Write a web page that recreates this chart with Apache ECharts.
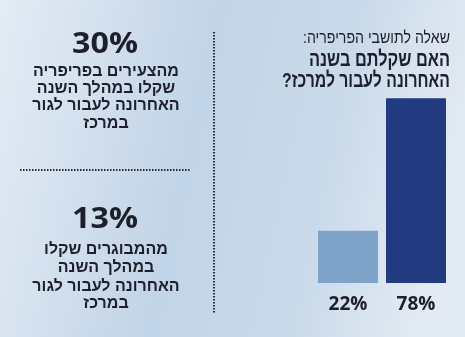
<!DOCTYPE html>
<html><head><meta charset="utf-8">
<script src="https://cdn.jsdelivr.net/npm/echarts@6/dist/echarts.min.js"></script>
<style>html,body{margin:0;padding:0;}#c{width:465px;height:337px;}</style>
</head><body>
<div id="c" dir="rtl"></div>
<script>
const categories = ['לא', 'כן'];
const values = [22, 78];
const barColors = ['#7fa3c9', '#223a80'];
const titleLines = ['שאלה לתושבי הפריפריה:', 'האם שקלתם בשנה', 'האחרונה לעבור למרכז?'];
const stat1 = '30%';
const stat1Lines = ['מהצעירים בפריפריה', 'שקלו במהלך השנה', 'האחרונה לעבור לגור', 'במרכז'];
const stat2 = '13%';
const stat2Lines = ['מהמבוגרים שקלו', 'במהלך השנה', 'האחרונה לעבור לגור', 'במרכז'];

const chart = echarts.init(document.getElementById('c'));
const heb = '"Liberation Sans", "DejaVu Sans", sans-serif';
const txt = '#1e1f2c';
const mctx = document.createElement('canvas').getContext('2d');
function fitScale(text, font, w){ mctx.font = font; return w / mctx.measureText(text).width; }

const g = [];
g.push({type:'rect', z:-10, shape:{x:0,y:0,width:465,height:337}, style:{fill:new echarts.graphic.LinearGradient(0,0,1,0.3,[
  {offset:0,color:'#e4ecf5'},{offset:0.45,color:'#c2d4e7'},{offset:0.75,color:'#cadaea'},{offset:1,color:'#e2eaf3'}])}});
const tFonts = ['17px '+heb, 'bold 21px '+heb, 'bold 21px '+heb];
const tY = [38, 60, 81];
const tW = [147, 141, 168];
titleLines.forEach((t,i)=>{
  g.push({type:'text', x:450, y:tY[i], scaleX: fitScale(t, tFonts[i], tW[i]),
    style:{text:t, fill:txt, font:tFonts[i], textAlign:'right', textVerticalAlign:'middle'}});
});
const bigFont = 'bold 29px "Open Sans", sans-serif';
g.push({type:'text', x:105, y:45, scaleX: fitScale(stat1, bigFont, 66), style:{text:stat1, fill:txt, font:bigFont, textAlign:'center', textVerticalAlign:'middle'}});
const y1 = [72, 89, 106, 124];
stat1Lines.forEach((t,i)=>g.push({type:'text', x:106, y:y1[i], style:{text:t, fill:txt, font:'bold 16px '+heb, textAlign:'center', textVerticalAlign:'middle'}}));
g.push({type:'text', x:105, y:220, scaleX: fitScale(stat2, bigFont, 66), style:{text:stat2, fill:txt, font:bigFont, textAlign:'center', textVerticalAlign:'middle'}});
const y2 = [250, 268, 287, 304];
stat2Lines.forEach((t,i)=>g.push({type:'text', x:106, y:y2[i], style:{text:t, fill:txt, font:'bold 16px '+heb, textAlign:'center', textVerticalAlign:'middle'}}));
g.push({type:'line', shape:{x1:20,y1:170,x2:190,y2:170}, style:{stroke:'#2a2b3a', lineWidth:2, lineDash:[1.5,1.5]}});
g.push({type:'line', shape:{x1:214,y1:32,x2:214,y2:314}, style:{stroke:'#2a2b3a', lineWidth:2, lineDash:[1.5,1.5]}});

chart.setOption({
  animation:false,
  grid:{left:314, right:15, top:46, bottom:54},
  graphic: g,
  xAxis:{type:'category', data:categories, axisLine:{show:false}, axisTick:{show:false},
    axisLabel:{margin:12, color:txt, fontSize:19, fontWeight:'bold', fontFamily:'"Open Sans", sans-serif',
      formatter:(v,i)=>values[i]+'%'}},
  yAxis:{type:'value', min:0, max:100, show:false, splitLine:{show:false}},
  series:[{type:'bar', barWidth:60, data: values.map((v,i)=>({value:v, itemStyle:{color:barColors[i]}}))}]
});
</script>
</body></html>
